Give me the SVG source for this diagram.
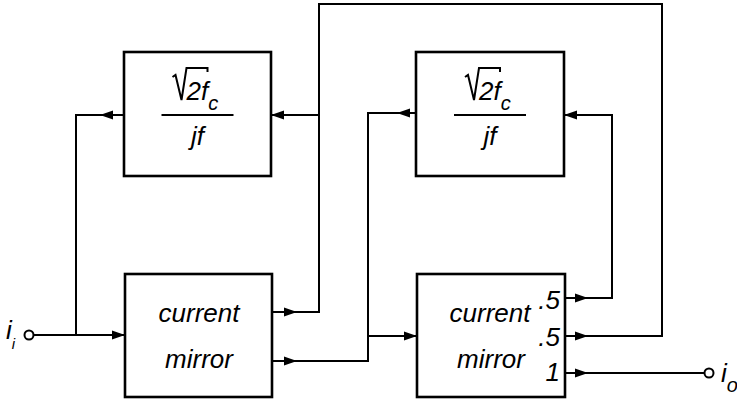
<svg xmlns="http://www.w3.org/2000/svg" xmlns:xlink="http://www.w3.org/1999/xlink" width="737" height="401" viewBox="0 0 737 401">
<style>
.box{fill:#fff;stroke:#000;stroke-width:2.6}
.wire{fill:none;stroke:#000;stroke-width:2}
.t{font-family:"Liberation Sans",Arial,sans-serif;font-style:italic;font-size:26px;fill:#000}
.rad{fill:none;stroke:#000;stroke-width:2}
.term{fill:#fff;stroke:#000;stroke-width:2}
</style>
<defs>
<path id="ah" d="M0,0 L-13,-4.5 L-13,4.5 Z" fill="#000"/>
<g id="eq">
<path class="rad" d="M-25,-38 L-22,-40 L-16,-15 L-11,-47 L10,-47 L10,-43"/>
<text class="t" x="-11" y="-15">2f<tspan font-size="20" dy="10">c</tspan></text>
<line x1="-36" y1="0" x2="36" y2="0" stroke="#000" stroke-width="2"/>
<text class="t" x="0" y="30" text-anchor="middle">jf</text>
</g>
</defs>
<g id="connectors">
<path class="wire" d="M272,312 H319 V4 H662 V336 H565"/>
<path class="wire" d="M319,115 H271"/>
<path class="wire" d="M124,115 H76 V335"/>
<path class="wire" d="M33,335 H125"/>
<path class="wire" d="M272,361 H368 V113 H416"/>
<path class="wire" d="M368,336 H417"/>
<path class="wire" d="M565,298 H612 V115 H564"/>
<path class="wire" d="M565,373 H705"/>
<use xlink:href="#ah" transform="translate(297,312)"/>
<use xlink:href="#ah" transform="translate(271,115) rotate(180)"/>
<use xlink:href="#ah" transform="translate(100,115) rotate(180)"/>
<use xlink:href="#ah" transform="translate(125,335)"/>
<use xlink:href="#ah" transform="translate(297,361)"/>
<use xlink:href="#ah" transform="translate(397,113) rotate(180)"/>
<use xlink:href="#ah" transform="translate(417,336)"/>
<use xlink:href="#ah" transform="translate(588,298)"/>
<use xlink:href="#ah" transform="translate(564,115) rotate(180)"/>
<use xlink:href="#ah" transform="translate(588,336)"/>
<use xlink:href="#ah" transform="translate(588,373)"/>
</g>
<g id="input">
<circle class="term" cx="29" cy="335" r="4.5"/>
<text class="t" x="6" y="339" font-size="20">i<tspan font-size="15" dy="10">i</tspan></text>
</g>
<g id="output">
<circle class="term" cx="709" cy="373" r="4.5"/>
<text class="t" x="721" y="382">i<tspan font-size="20" dy="10">o</tspan></text>
</g>
<g id="filter1">
<rect class="box" x="124" y="52" width="147" height="124"/>
<use xlink:href="#eq" transform="translate(197.5,115)"/>
</g>
<g id="filter2">
<rect class="box" x="416" y="52" width="148" height="124"/>
<use xlink:href="#eq" transform="translate(490,115)"/>
</g>
<g id="mirror1">
<rect class="box" x="125" y="274" width="147" height="123"/>
<text class="t" x="199" y="322" text-anchor="middle">current</text>
<text class="t" x="199" y="368" text-anchor="middle">mirror</text>
</g>
<g id="mirror2">
<rect class="box" x="417" y="274" width="148" height="123"/>
<text class="t" x="490" y="322" text-anchor="middle">current</text>
<text class="t" x="491" y="368" text-anchor="middle">mirror</text>
<text class="t" x="560" y="309" text-anchor="end">.5</text>
<text class="t" x="560" y="346" text-anchor="end">.5</text>
<text class="t" x="560" y="381" text-anchor="end">1</text>
</g>
</svg>
